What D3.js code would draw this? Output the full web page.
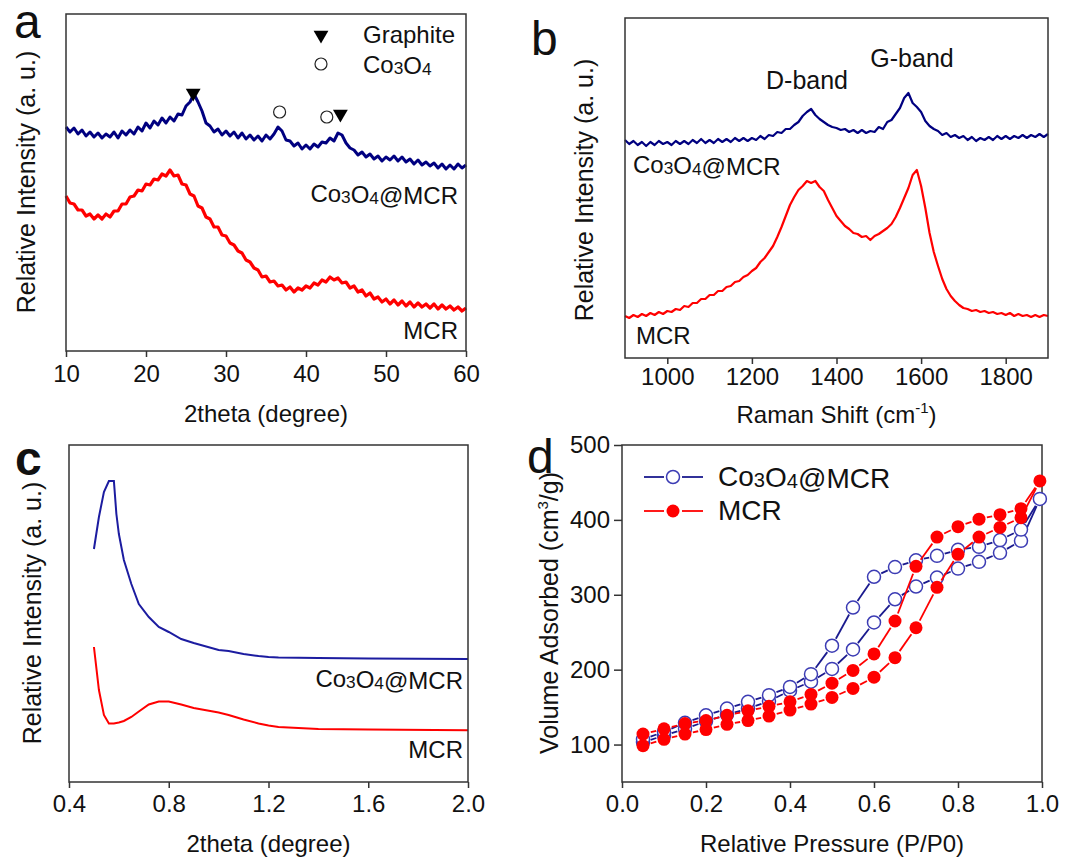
<!DOCTYPE html>
<html>
<head>
<meta charset="utf-8">
<script src="https://cdn.jsdelivr.net/npm/d3@7"></script>
<style>
  body { margin: 0; background: #fff; }
  svg text { font-family: "Liberation Sans", Arial, sans-serif; fill: #111; }
</style>
</head>
<body>
<div id="fig"></div>
<script>
// ---- panel a : XRD wide angle (2theta 10..60 step 0.5) ----
var aX = d3.range(10, 60.01, 0.5);
var aCo = [224,219,223,217,221,215,219,214,218,213,217,214,219,213,220,216,221,217,224,220,
  228,223,230,226,233,228,234,230,237,236,245,249,257,249,240,228,225,219,222,216,
  220,215,219,213,218,212,216,211,215,210,216,212,217,224,220,211,210,205,208,202,
  206,202,207,204,209,208,213,210,218,216,208,203,201,196,199,194,197,192,195,190,
  194,191,195,190,194,189,192,187,191,186,189,185,188,183,187,182,186,182,187,183,186];
var aMcr = [155,148,147,141,141,135,137,132,136,132,137,134,140,140,147,147,154,155,161,160,
  167,166,172,171,177,175,181,175,176,167,166,157,155,145,143,134,132,124,124,116,
  115,108,106,100,98,91,89,83,81,74,75,69,70,65,66,61,64,59,63,61,
  65,63,68,66,71,69,74,71,73,68,69,63,65,59,61,55,58,52,54,49,
  52,47,51,46,50,45,49,44,48,44,47,43,47,42,46,42,45,41,44,40,43];
var aGraphitePeaks = [[25.9, 258], [44.3, 237]];
var aCoPeaks = [[36.7, 239], [42.6, 234]];
var aTicks = [10, 20, 30, 40, 50, 60];

// ---- panel b : Raman (900..1900 step 10) ----
var bX = d3.range(900, 1900.1, 10);
var bCo = [218,214,217,213,216,212,216,213,217,214,216,213,217,214,217,214,218,215,219,215,
  218,215,219,216,219,216,220,217,220,217,220,218,222,219,223,222,226,225,229,229,
  233,236,242,246,249,243,239,236,233,231,230,228,229,226,228,225,228,225,227,226,
  231,229,236,238,244,250,260,265,255,251,246,237,232,229,227,223,225,221,223,220,
  222,218,221,217,220,218,221,218,222,219,222,219,222,220,223,220,223,221,224,221,224];
var bMcr = [42,40,43,41,44,42,45,43,46,44,47,46,49,48,52,51,55,55,59,59,
  63,63,67,67,71,72,76,77,81,83,87,90,96,100,106,112,121,131,142,153,
  161,168,172,177,175,177,171,167,158,150,142,137,132,129,125,124,121,122,118,122,
  124,127,130,134,141,150,160,170,183,188,172,150,125,106,92,79,69,62,57,53,
  50,49,47,48,46,47,45,46,44,45,43,45,42,44,42,43,41,43,41,43,42];
var bTicks = [1000, 1200, 1400, 1600, 1800];

// ---- panel c : XRD small angle ----
var cCoX = [0.5,0.52,0.54,0.56,0.58,0.59,0.6,0.62,0.65,0.68,0.72,0.76,0.8,0.85,0.9,1.0,1.04,1.1,1.16,1.2,1.24,1.4,1.6,2.0];
var cCo  = [233,265,290,301,301,268,248,222,198,178,165,155,150,143,139,132,131,128,126,125,124.5,124,123.5,123];
var cMcrX = [0.5,0.52,0.54,0.56,0.58,0.6,0.62,0.65,0.68,0.72,0.76,0.8,0.85,0.9,1.0,1.04,1.1,1.16,1.2,1.24,1.4,1.6,2.0];
var cMcr  = [135,92,67,58.5,58.5,59.5,61,65,70.5,77.5,80.5,80.5,77.5,74,69.5,67,62.5,58.5,56.5,55,53,52.4,51.7];
var cTicks = [0.4, 0.8, 1.2, 1.6, 2.0];

// ---- panel d : N2 isotherms ----
var dP = [0.05,0.1,0.15,0.2,0.25,0.3,0.35,0.4,0.45,0.5,0.55,0.6,0.65,0.7,0.75,0.8,0.85,0.9,0.95,0.995];
var dCoAds = [103,112,121,131,140,148,158,172,184,201,227,263,294,311,323,335,344,356,372,428];
var dCoDes = [107,117,129,139,148,157,166,177,194,232,283,324,337,346,352,360,364,373,387,428];
var dMcrAds = [98.5,107,114,120,127,132,138,146,154,163,175,190,216,256,310,354,377,390,403,452];
var dMcrDes = [114,121,128,132,139,145,151,157,167,182,199,221,265,338,377,391,401,407,415,452];
var dXTicks = [0, 0.2, 0.4, 0.6, 0.8, 1.0];
var dYTicks = [100, 200, 300, 400, 500];

var NAVY = "#000080", BLUE_C = "#1c1ca0", BLUE_D = "#1a1a8e", BLUE_MK = "#3c3cb4", RED = "#ff0000";

var svg = d3.select("#fig").append("svg").attr("width", 1069).attr("height", 858);

// writes "Co3O4@MCR" style text with small digits
function chem(sel, str) {
  var parts = str.split(/(\d)/);
  parts.forEach(function(p) {
    if (p === "") return;
    if (/\d/.test(p)) sel.append("tspan").attr("font-size", "0.72em").attr("dy", 1).text(p)
      .each(function() { sel.append("tspan").attr("dy", -1).text(""); });
    else sel.append("tspan").text(p);
  });
  return sel;
}

function frame(box) {
  svg.append("rect").attr("x", box.l).attr("y", box.t)
    .attr("width", box.r - box.l).attr("height", box.b - box.t)
    .attr("fill", "none").attr("stroke", "#333").attr("stroke-width", 1.5);
}

function bottomAxis(box, x, ticks, minor, fmt, labelY) {
  var g = svg.append("g").attr("transform", "translate(0," + box.b + ")");
  g.call(d3.axisBottom(x).tickValues(minor).tickSize(3).tickFormat(""));
  g.call(d3.axisBottom(x).tickValues(ticks).tickSize(6).tickFormat(fmt).tickPadding(4));
  g.selectAll(".domain").remove();
  g.selectAll("line").attr("stroke", "#333").attr("stroke-width", 1.5);
  g.selectAll("text").attr("font-size", 24).attr("dy", null).attr("y", labelY - box.b)
    .attr("fill", "#111").style("font-family", '"Liberation Sans", Arial, sans-serif');
}

function yTitle(x, y, parts) {
  var t = svg.append("text").attr("transform", "translate(" + x + "," + y + ") rotate(-90)")
    .attr("text-anchor", "middle").attr("font-size", 25);
  parts(t);
}

function panelLabel(txt, x, y, bold) {
  svg.append("text").attr("x", x).attr("y", y).attr("font-size", 48)
    .attr("font-weight", bold ? "bold" : "normal").text(txt);
}

// ================= panel a =================
var boxA = {l: 66, r: 466, t: 14, b: 351};
var xA = d3.scaleLinear().domain([10, 60]).range([boxA.l, boxA.r]);
var yA = d3.scaleLinear().domain([0, 337]).range([boxA.b, boxA.t]);
var lineA = d3.line().x(function(d, i) { return xA(aX[i]); }).y(function(d) { return yA(d); });
svg.append("path").datum(aCo).attr("d", lineA).attr("fill", "none").attr("stroke", NAVY).attr("stroke-width", 3).attr("stroke-linejoin", "round");
svg.append("path").datum(aMcr).attr("d", lineA).attr("fill", "none").attr("stroke", RED).attr("stroke-width", 3.2).attr("stroke-linejoin", "round");
frame(boxA);
bottomAxis(boxA, xA, aTicks, d3.range(15, 60, 10), d3.format("d"), 382);

var tri = d3.symbol().type(d3.symbolTriangle).size(95);
aGraphitePeaks.forEach(function(p) {
  svg.append("path").attr("d", tri).attr("transform", "translate(" + xA(p[0]) + "," + yA(p[1]) + ") rotate(180)").attr("fill", "#000");
});
aCoPeaks.forEach(function(p) {
  svg.append("circle").attr("cx", xA(p[0])).attr("cy", yA(p[1])).attr("r", 6).attr("fill", "#fff").attr("stroke", "#222").attr("stroke-width", 1.2);
});
svg.append("path").attr("d", tri).attr("transform", "translate(321,35) rotate(180)").attr("fill", "#000");
svg.append("circle").attr("cx", 321).attr("cy", 64).attr("r", 6).attr("fill", "#fff").attr("stroke", "#222").attr("stroke-width", 1.2);
svg.append("text").attr("x", 363).attr("y", 43).attr("font-size", 24).text("Graphite");
chem(svg.append("text").attr("x", 363).attr("y", 73).attr("font-size", 24), "Co3O4");
chem(svg.append("text").attr("x", 458).attr("y", 202).attr("font-size", 24).attr("text-anchor", "end"), "Co3O4@MCR");
svg.append("text").attr("x", 458).attr("y", 339).attr("font-size", 24).attr("text-anchor", "end").text("MCR");
svg.append("text").attr("x", (boxA.l + boxA.r) / 2).attr("y", 422).attr("font-size", 24).attr("text-anchor", "middle").text("2theta (degree)");
yTitle(35, 182, function(t) { t.text("Relative Intensity (a. u.)"); });
panelLabel("a", 14, 38, false);

// ================= panel b =================
var boxB = {l: 625, r: 1048, t: 18, b: 358};
var xB = d3.scaleLinear().domain([900, 1900]).range([boxB.l, boxB.r]);
var yB = d3.scaleLinear().domain([0, 340]).range([boxB.b, boxB.t]);
var lineB = d3.line().x(function(d, i) { return xB(bX[i]); }).y(function(d) { return yB(d); });
svg.append("path").datum(bCo).attr("d", lineB).attr("fill", "none").attr("stroke", NAVY).attr("stroke-width", 2.2).attr("stroke-linejoin", "round");
svg.append("path").datum(bMcr).attr("d", lineB).attr("fill", "none").attr("stroke", RED).attr("stroke-width", 2.2).attr("stroke-linejoin", "round");
frame(boxB);
bottomAxis(boxB, xB, bTicks, d3.range(900, 1901, 200), d3.format("d"), 385);
svg.append("text").attr("x", 807).attr("y", 89).attr("font-size", 25).attr("text-anchor", "middle").text("D-band");
svg.append("text").attr("x", 912).attr("y", 67).attr("font-size", 25).attr("text-anchor", "middle").text("G-band");
chem(svg.append("text").attr("x", 633).attr("y", 173).attr("font-size", 24), "Co3O4@MCR");
svg.append("text").attr("x", 636).attr("y", 344).attr("font-size", 24).text("MCR");
var tb = svg.append("text").attr("x", (boxB.l + boxB.r) / 2).attr("y", 423).attr("font-size", 24).attr("text-anchor", "middle");
tb.append("tspan").text("Raman Shift (cm");
tb.append("tspan").attr("font-size", 15).attr("dy", -10).text("-1");
tb.append("tspan").attr("dy", 10).text(")");
yTitle(593, 190, function(t) { t.text("Relative Intensity (a. u.)"); });
panelLabel("b", 531, 55, false);

// ================= panel c =================
var boxC = {l: 69, r: 468, t: 445, b: 782};
var xC = d3.scaleLinear().domain([0.4, 2.0]).range([boxC.l, boxC.r]);
var yC = d3.scaleLinear().domain([0, 337]).range([boxC.b, boxC.t]);
svg.append("path").datum(cCo).attr("d", d3.line().x(function(d, i) { return xC(cCoX[i]); }).y(function(d) { return yC(d); }))
  .attr("fill", "none").attr("stroke", BLUE_C).attr("stroke-width", 2);
svg.append("path").datum(cMcr).attr("d", d3.line().x(function(d, i) { return xC(cMcrX[i]); }).y(function(d) { return yC(d); }))
  .attr("fill", "none").attr("stroke", RED).attr("stroke-width", 2);
frame(boxC);
bottomAxis(boxC, xC, cTicks, [0.6, 1.0, 1.4, 1.8], d3.format(".1f"), 812);
chem(svg.append("text").attr("x", 463).attr("y", 687).attr("font-size", 24).attr("text-anchor", "end"), "Co3O4@MCR");
svg.append("text").attr("x", 463).attr("y", 758).attr("font-size", 24).attr("text-anchor", "end").text("MCR");
svg.append("text").attr("x", (boxC.l + boxC.r) / 2).attr("y", 852).attr("font-size", 24).attr("text-anchor", "middle").text("2theta (degree)");
yTitle(41, 613, function(t) { t.text("Relative Intensity (a. u.)"); });
panelLabel("c", 15, 475, true);

// ================= panel d =================
var boxD = {l: 622, r: 1042, t: 445, b: 782};
var xD = d3.scaleLinear().domain([0, 1]).range([boxD.l, boxD.r]);
var yD = d3.scaleLinear().domain([50, 500]).range([boxD.b, boxD.t]);
frame(boxD);
bottomAxis(boxD, xD, dXTicks, d3.range(0.1, 1, 0.2), d3.format(".1f"), 812);
var gy = svg.append("g").attr("transform", "translate(" + boxD.l + ",0)");
gy.call(d3.axisLeft(yD).tickValues([150, 250, 350, 450]).tickSize(4).tickFormat(""));
gy.call(d3.axisLeft(yD).tickValues(dYTicks).tickSize(8).tickFormat(d3.format("d")).tickPadding(4));
gy.selectAll(".domain").remove();
gy.selectAll("line").attr("stroke", "#333").attr("stroke-width", 1.5);
gy.selectAll("text").attr("font-size", 24).attr("fill", "#111").style("font-family", '"Liberation Sans", Arial, sans-serif');

var R = 6.5;
// line segments that stop short of the markers
function gappedLines(pts, color) {
  for (var i = 0; i < pts.length - 1; i++) {
    var x1 = pts[i][0], y1 = pts[i][1], x2 = pts[i + 1][0], y2 = pts[i + 1][1];
    var len = Math.hypot(x2 - x1, y2 - y1), g = R + 1.5;
    if (len <= 2 * g + 1) continue;
    var ux = (x2 - x1) / len, uy = (y2 - y1) / len;
    svg.append("line").attr("x1", x1 + ux * g).attr("y1", y1 + uy * g)
      .attr("x2", x2 - ux * g).attr("y2", y2 - uy * g)
      .attr("stroke", color).attr("stroke-width", 1.8);
  }
}
function loop(ads, des) {
  var pts = dP.map(function(p, i) { return [xD(p), yD(ads[i])]; });
  for (var i = dP.length - 2; i >= 0; i--) pts.push([xD(dP[i]), yD(des[i])]);
  return pts;
}
var coPts = loop(dCoAds, dCoDes), mcrPts = loop(dMcrAds, dMcrDes);
gappedLines(coPts, BLUE_D);
svg.append("g").selectAll("circle").data(coPts).join("circle")
  .attr("cx", function(d) { return d[0]; }).attr("cy", function(d) { return d[1]; }).attr("r", R)
  .attr("fill", "#fff").attr("stroke", BLUE_MK).attr("stroke-width", 1.5);
gappedLines(mcrPts, RED);
svg.append("g").selectAll("circle").data(mcrPts).join("circle")
  .attr("cx", function(d) { return d[0]; }).attr("cy", function(d) { return d[1]; }).attr("r", R)
  .attr("fill", RED);

// legend
[[477, BLUE_D, false, "Co3O4@MCR"], [511, RED, true, "MCR"]].forEach(function(L) {
  svg.append("line").attr("x1", 644).attr("x2", 664).attr("y1", L[0]).attr("y2", L[0]).attr("stroke", L[1]).attr("stroke-width", 1.8);
  svg.append("line").attr("x1", 682).attr("x2", 703).attr("y1", L[0]).attr("y2", L[0]).attr("stroke", L[1]).attr("stroke-width", 1.8);
  svg.append("circle").attr("cx", 673).attr("cy", L[0]).attr("r", R)
    .attr("fill", L[2] ? RED : "#fff").attr("stroke", L[2] ? "none" : BLUE_MK).attr("stroke-width", 1.5);
  chem(svg.append("text").attr("x", 718).attr("y", L[0] + 9).attr("font-size", 28), L[3]);
});
var td = svg.append("text").attr("x", (boxD.l + boxD.r) / 2).attr("y", 852).attr("font-size", 24).attr("text-anchor", "middle");
td.text("Relative Pressure (P/P0)");
yTitle(558, 613, function(t) {
  t.append("tspan").text("Volume Adsorbed (cm");
  t.append("tspan").attr("font-size", 15).attr("dy", -10).text("3");
  t.append("tspan").attr("dy", 10).text("/g)");
});
panelLabel("d", 527, 473, false);
</script>
</body>
</html>
